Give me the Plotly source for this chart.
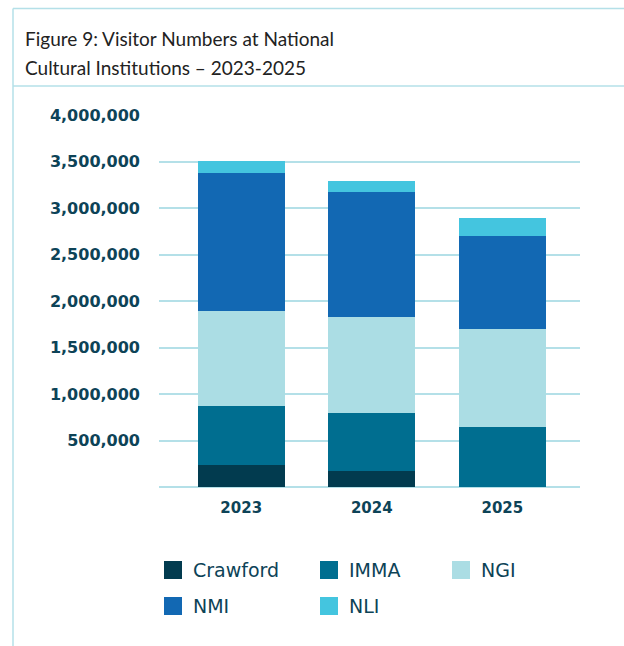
import plotly.graph_objects as go

# Visitor numbers by institution, stacked per year
years = ["2023", "2024", "2025"]
crawford = [233000, 169000, 0]
imma = [635000, 623000, 642000]
ngi = [1021000, 1040000, 1054000]
nmi = [1484000, 1337000, 999000]
nli = [129000, 118000, 194000]

series_names = ["Crawford", "IMMA", "NGI", "NMI", "NLI"]
series_values = [crawford, imma, ngi, nmi, nli]
series_colors = ["#023B4F", "#006E90", "#ABDDE4", "#1268B3", "#44C5DF"]

y_ticks = [500000, 1000000, 1500000, 2000000, 2500000, 3000000, 3500000, 4000000]

title_lines = ["Figure 9: Visitor Numbers at National",
               "Cultural Institutions \u2013 2023-2025"]

W, H = 624, 646
ML, MR, MT, MB = 159, 44, 115, 159
PW, PH = W - ML - MR, H - MT - MB
TEXT = "#0D4357"
LINE = "#B4E0E8"


def px_x(x):
    return (x - ML) / PW


def px_y(y):
    return (H - MB - y) / PH


fig = go.Figure()
for name, vals, col in zip(series_names, series_values, series_colors):
    fig.add_trace(go.Bar(
        x=years, y=vals, name=name, marker=dict(color=col, line=dict(width=0)),
        showlegend=False, hoverinfo="x+y+name",
    ))

shapes = [
    # frame around the figure and divider under the heading
    dict(type="line", xref="paper", yref="paper", x0=px_x(13), x1=px_x(W + 2),
         y0=px_y(8.5), y1=px_y(8.5), line=dict(color=LINE, width=1.5)),
    dict(type="line", xref="paper", yref="paper", x0=px_x(13), x1=px_x(13),
         y0=px_y(8.5), y1=px_y(H + 2), line=dict(color=LINE, width=1.5)),
    dict(type="line", xref="paper", yref="paper", x0=px_x(13), x1=px_x(W + 2),
         y0=px_y(86), y1=px_y(86), line=dict(color=LINE, width=1.5)),
]

annotations = []
for line, yc in zip(title_lines, [39, 67.5]):
    annotations.append(dict(text=line, xref="paper", yref="paper",
                            x=px_x(23), y=px_y(yc), xanchor="left", yanchor="middle",
                            showarrow=False,
                            font=dict(family="Lato", size=19, color="#222222")))

# legend: two rows of swatches with labels
legend_cols = [164, 320, 452]
legend_rows = [561, 597]
for i, (name, col) in enumerate(zip(series_names, series_colors)):
    cx = legend_cols[i % 3]
    cy = legend_rows[i // 3]
    shapes.append(dict(type="rect", xref="paper", yref="paper",
                       x0=px_x(cx), x1=px_x(cx + 18), y0=px_y(cy), y1=px_y(cy + 18),
                       fillcolor=col, line=dict(width=0)))
    annotations.append(dict(text=name, xref="paper", yref="paper",
                            x=px_x(cx + 27), y=px_y(cy + 9), xanchor="left", yanchor="middle",
                            showarrow=False,
                            font=dict(family="DejaVu Sans", size=19, color=TEXT)))

fig.update_layout(
    width=W, height=H,
    margin=dict(l=ML, r=MR, t=MT, b=MB),
    paper_bgcolor="white", plot_bgcolor="white",
    barmode="stack", bargap=0.333,
    shapes=shapes, annotations=annotations,
    xaxis=dict(range=[-0.63, 2.595], showgrid=False, showline=False, zeroline=False,
               ticks="", ticklabelstandoff=10,
               tickfont=dict(family="DejaVu Sans", size=15, color=TEXT, weight="bold")),
    yaxis=dict(range=[0, 4000000], tickvals=y_ticks, tickformat=",d",
               showgrid=True, gridcolor=LINE, gridwidth=1.5,
               zeroline=True, zerolinecolor=LINE, zerolinewidth=1.5,
               showline=False, ticks="", ticklabelstandoff=18,
               tickfont=dict(family="DejaVu Sans", size=16, color=TEXT, weight="bold")),
)

fig.write_html("out.html")
